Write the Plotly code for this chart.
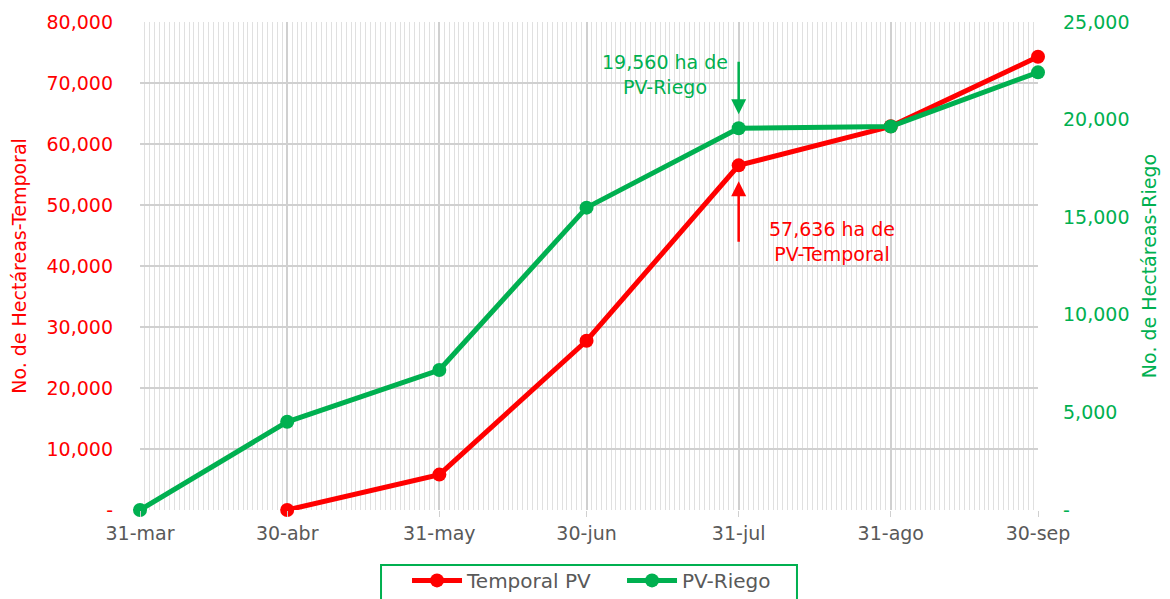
import plotly.graph_objects as go

dates = ["2023-03-31", "2023-04-30", "2023-05-31", "2023-06-30", "2023-07-31", "2023-08-31", "2023-09-30"]
date_labels = ["31-mar", "30-abr", "31-may", "30-jun", "31-jul", "31-ago", "30-sep"]

temporal_dates = dates[1:]
temporal_vals = [0, 5800, 27750, 56500, 62900, 74300]

riego_vals = [0, 4520, 7170, 15490, 19560, 19650, 22420]

left_ticks = [0, 10000, 20000, 30000, 40000, 50000, 60000, 70000, 80000]
left_text = ["-", "10,000", "20,000", "30,000", "40,000", "50,000", "60,000", "70,000", "80,000"]
right_ticks = [0, 5000, 10000, 15000, 20000, 25000]
right_text = ["-", "5,000", "10,000", "15,000", "20,000", "25,000"]

RED = "#FF0000"
GREEN = "#00B050"
GRAY = "#595959"
FONT = "DejaVu Sans"
FS = 19

fig = go.Figure()
fig.add_trace(go.Scatter(
    x=temporal_dates, y=temporal_vals, name="Temporal PV", mode="lines+markers",
    line=dict(color=RED, width=5), marker=dict(color=RED, size=14),
    cliponaxis=False, yaxis="y"))
fig.add_trace(go.Scatter(
    x=dates, y=riego_vals, name="PV-Riego", mode="lines+markers",
    line=dict(color=GREEN, width=5), marker=dict(color=GREEN, size=14),
    cliponaxis=False, yaxis="y2"))

fig.update_layout(
    width=1170, height=599,
    margin=dict(l=132, r=140, t=14, b=97, autoexpand=False),
    plot_bgcolor="white", paper_bgcolor="white",
    font=dict(family=FONT, size=FS, color=GRAY),
    xaxis=dict(
        type="date", range=["2023-03-31", "2023-09-30"],
        tickvals=dates, ticktext=date_labels,
        showgrid=True, gridcolor="#D0D0D0", gridwidth=1.5,
        ticks="outside", ticklen=6, tickcolor="#D0D0D0",
        tickfont=dict(color=GRAY, size=FS),
        minor=dict(dtick=86400000, tick0="2023-03-31", showgrid=True,
                   gridcolor="#E0E0E0", gridwidth=1.2),
        zeroline=False, showline=False, automargin=False,
    ),
    yaxis=dict(
        range=[0, 80000], tickvals=left_ticks, ticktext=left_text,
        tickfont=dict(color=RED, size=FS),
        showgrid=True, gridcolor="#D0D0D0", gridwidth=1.5,
        zeroline=False, ticklabelstandoff=26, automargin=False,
        title=dict(text="No. de Hectáreas-Temporal", font=dict(color=RED, size=FS), standoff=18),
    ),
    yaxis2=dict(
        range=[0, 25000], tickvals=right_ticks, ticktext=right_text,
        overlaying="y", side="right", showgrid=False, zeroline=False,
        tickfont=dict(color=GREEN, size=FS), ticklabelstandoff=24, automargin=False,
        title=dict(text="No. de Hectáreas-Riego", font=dict(color=GREEN, size=FS), standoff=14),
    ),
    showlegend=True,
    legend=dict(
        orientation="h", x=0.5248, xanchor="center", xref="container",
        y=0.077, yanchor="top", yref="container",
        borderwidth=0, bgcolor="rgba(0,0,0,0)",
        font=dict(color=GRAY, size=20), entrywidth=150,
        itemwidth=50,
    ),
)

# Legend frame
fig.add_shape(type="rect", xref="paper", yref="paper",
              x0=0.2684, x1=0.7316, y0=-0.23, y1=-0.1127,
              line=dict(color=GREEN, width=2), fillcolor="rgba(0,0,0,0)", layer="below")

# Annotations
fig.add_annotation(x="2023-07-31", y=19560, xref="x", yref="y2",
                   ax=0, ay=-68, showarrow=True, arrowhead=2, arrowsize=1.2,
                   arrowwidth=2.5, arrowcolor=GREEN, standoff=14, text="")
fig.add_annotation(x="2023-07-31", y=temporal_vals[3], xref="x", yref="y",
                   ax=0, ay=78, showarrow=True, arrowhead=2, arrowsize=1.2,
                   arrowwidth=2.5, arrowcolor=RED, standoff=16, text="")
fig.add_annotation(x="2023-07-16", y=22300, xref="x", yref="y2", showarrow=False,
                   text="19,560 ha de<br>PV-Riego", font=dict(color=GREEN, size=FS),
                   align="center")
fig.add_annotation(x="2023-08-19", y=44050, xref="x", yref="y", showarrow=False,
                   text="57,636 ha de<br>PV-Temporal", font=dict(color=RED, size=FS),
                   align="center")

fig.write_html("out.html")
